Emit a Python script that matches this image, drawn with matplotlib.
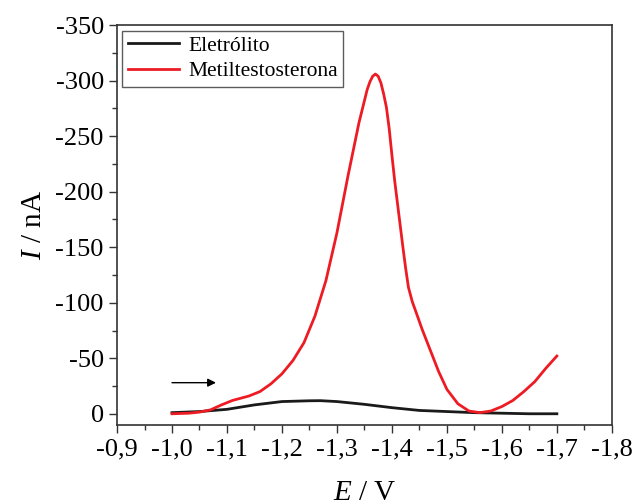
import matplotlib
matplotlib.use("Agg")
import matplotlib.pyplot as plt
from matplotlib.ticker import MultipleLocator, FuncFormatter

plt.rcParams['font.family'] = ['Liberation Serif', 'DejaVu Serif']
plt.rcParams['mathtext.fontset'] = 'custom'
plt.rcParams['mathtext.rm'] = 'Liberation Serif'
plt.rcParams['mathtext.it'] = 'Liberation Serif:italic'

# Eletrólito (black)
E_blk = [-1.00, -1.05, -1.10, -1.15, -1.20, -1.25, -1.27, -1.30, -1.35,
         -1.40, -1.45, -1.50, -1.55, -1.60, -1.65, -1.70]
I_blk = [-1.0, -2.0, -4.0, -8.0, -11.0, -11.7, -11.8, -11.0, -8.5,
         -5.5, -3.0, -2.0, -1.0, -0.5, 0.0, 0.0]

# Metiltestosterona (red)
E_red = [-1.00, -1.03, -1.05, -1.07, -1.09, -1.11, -1.14, -1.16, -1.18, -1.20,
         -1.22, -1.24, -1.26, -1.28, -1.30, -1.32, -1.34, -1.35, -1.355, -1.36,
         -1.365, -1.37, -1.375, -1.38, -1.385, -1.39, -1.395, -1.40, -1.405, -1.41,
         -1.415, -1.42, -1.425, -1.43, -1.437, -1.445, -1.455, -1.47, -1.485, -1.50,
         -1.52, -1.54, -1.56, -1.58, -1.60, -1.62, -1.64, -1.66, -1.68, -1.70]
I_red = [0.0, -0.5, -1.5, -3.5, -8.0, -12.0, -16.0, -20.0, -27.0, -36.0,
         -48.0, -64.0, -88.0, -120.0, -163.0, -214.0, -262.0, -282.0, -292.0, -299.0,
         -304.0, -306.0, -304.0, -298.0, -288.0, -276.0, -257.0, -233.0, -210.0, -190.0,
         -170.0, -150.0, -131.0, -114.0, -101.0, -90.0, -76.0, -57.0, -38.0, -22.0,
         -9.0, -2.5, -1.0, -2.5, -6.5, -12.0, -20.0, -29.0, -41.0, -52.0]

labels = ["Eletrólito", "Metiltestosterona"]
arrow_E = [-1.0, -1.08]
arrow_I = -28

fig = plt.figure(figsize=(6.36, 5.04), dpi=100)
ax = fig.add_axes([0.184, 0.157, 0.778, 0.793])

ax.plot(E_blk, I_blk, color='#1a1a1a', lw=2.0, label=labels[0])
ax.plot(E_red, I_red, color='#ed1c24', lw=2.0, label=labels[1])

ax.set_xlim(-0.9, -1.8)
ax.set_ylim(10, -350)

ax.xaxis.set_major_locator(MultipleLocator(0.1))
ax.xaxis.set_minor_locator(MultipleLocator(0.05))
ax.yaxis.set_major_locator(MultipleLocator(50))
ax.yaxis.set_minor_locator(MultipleLocator(25))
ax.xaxis.set_major_formatter(FuncFormatter(lambda v, p: f"{v:.1f}".replace('.', ',')))
ax.yaxis.set_major_formatter(FuncFormatter(lambda v, p: f"{v:.0f}"))

ax.tick_params(which='both', direction='out', top=False, right=False,
               labelsize=19, color='#333333', width=1.0)
ax.tick_params(which='major', length=6)
ax.tick_params(which='minor', length=3.5)
for s in ax.spines.values():
    s.set_linewidth(1.2)
    s.set_color('#333333')

ax.set_xlabel(r"$\it{E}$ / V", fontsize=21, labelpad=14)
ax.set_ylabel(r"$\it{I}$ / nA", fontsize=21, labelpad=6)

ax.annotate("", xy=(arrow_E[1], arrow_I), xytext=(arrow_E[0], arrow_I),
            arrowprops=dict(arrowstyle='-|>', color='black', lw=1.0,
                            mutation_scale=12, shrinkA=0, shrinkB=0))

leg = ax.legend(loc='upper left', fontsize=15.5, frameon=True, fancybox=False,
                borderaxespad=0.25, handlelength=2.4, handletextpad=0.4,
                borderpad=0.25, labelspacing=0.25)
leg.get_frame().set_edgecolor('#333333')
leg.get_frame().set_linewidth(1.0)

fig.savefig("out.png", dpi=100)
